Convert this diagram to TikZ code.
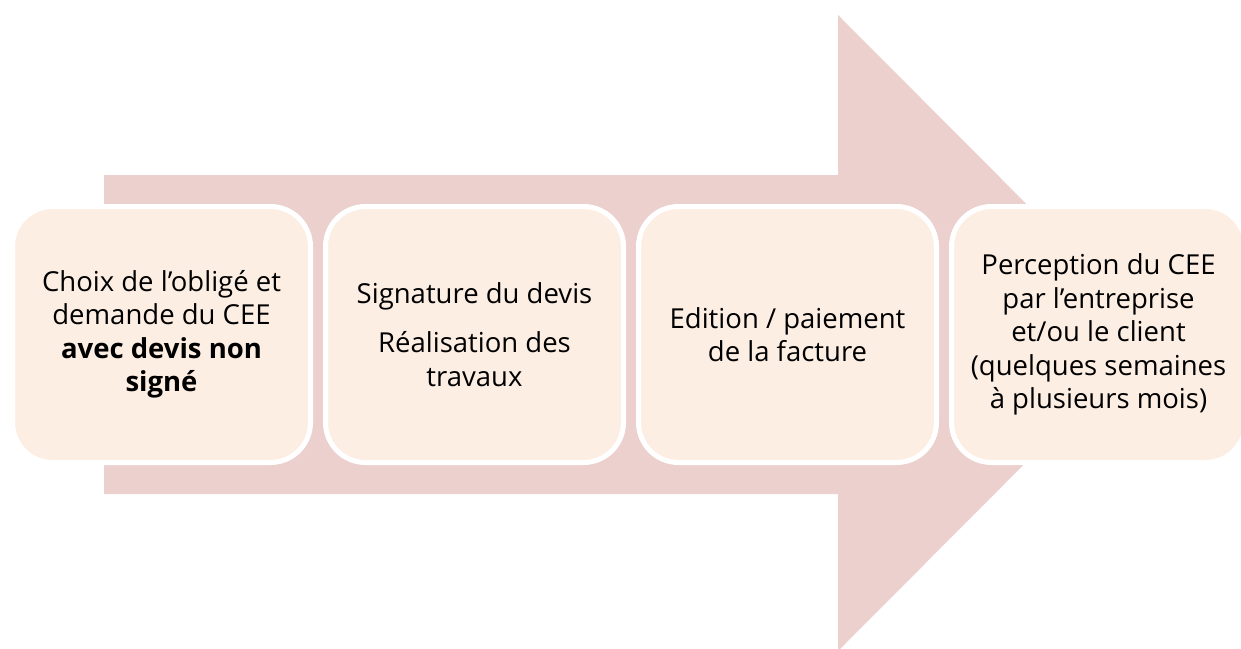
\documentclass[tikz,border=0pt]{standalone}
\usepackage{fontspec}
\setmainfont{Open Sans}
\definecolor{arrowfill}{HTML}{ECD0CE}
\definecolor{boxfill}{HTML}{FDEEE4}
\begin{document}
\begin{tikzpicture}[x=1pt,y=-1pt,
  stepbox/.style={draw=white, line width=5pt, fill=boxfill, rounded corners=40pt,
    minimum width=298pt, minimum height=256pt, align=center, inner sep=0pt,
    font=\fontsize{27.5}{33.5}\selectfont, text=black}]
\useasboundingbox (0,0) rectangle (1241,648);
\clip (0,0) rectangle (1241,648);
\fill[arrowfill] (104,175) -- (838,175) -- (838,15) -- (1155,333) -- (838,651) -- (838,494) -- (104,494) -- cycle;
\node[stepbox] (b1) at (161.5,334.5) {Choix de l’obligé et\\demande du CEE\\\textbf{avec devis non}\\\textbf{signé}};
\node[stepbox] (b2) at (474.5,334.5) {Signature du devis\\[16pt]Réalisation des\\travaux};
\node[stepbox] (b3) at (787.5,334.5) {Edition / paiement\\de la facture};
\node[stepbox, minimum width=294pt] (b4) at (1098.5,334.5) {Perception du CEE\\par l’entreprise\\et/ou le client\\(quelques semaines\\à plusieurs mois)};
\end{tikzpicture}
\end{document}
